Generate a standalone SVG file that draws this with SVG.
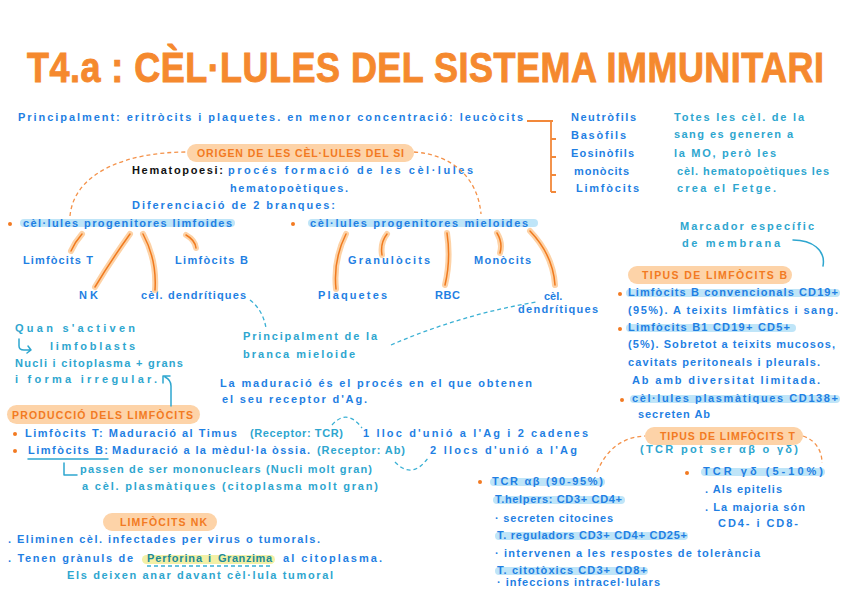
<svg xmlns="http://www.w3.org/2000/svg" width="848" height="599" viewBox="0 0 848 599">
<style>
text{font-family:"Liberation Sans",Arial,sans-serif;font-size:11px;font-weight:bold}
.b{fill:#1f7fe3}
.t{fill:#2ea6cf}
.o{fill:#f27a22;font-size:10.5px}
.k{fill:#111}
.pk{fill:#1d8a98}
.hb{fill:#bfe5f8}
.ho{fill:#fdd3a8}
.hy{fill:#f3f0a6}
.dot{fill:#f27a22}
.glow{fill:none;stroke:#fdd2a6;stroke-width:6;stroke-linecap:round}
.br{fill:none;stroke:#f07a1e;stroke-width:1.5;stroke-linecap:round}
.od{fill:none;stroke:#f4924a;stroke-width:1.3;stroke-dasharray:4 3}
.td{fill:none;stroke:#3ab0d4;stroke-width:1.3;stroke-dasharray:4 3}
.tl{fill:none;stroke:#2ea6cf;stroke-width:1.5;stroke-linecap:round;stroke-linejoin:round}
.ol{fill:none;stroke:#f2883a;stroke-width:1.8}
</style>
<rect width="848" height="599" fill="#fff"/>

<g id="title">
<text transform="translate(27,82) scale(1,1.18)" x="0" y="0" textLength="797" style="font-size:36px;fill:#f5892e;stroke:#f5892e;stroke-width:0.8">T4.a : CÈL·LULES  DEL SISTEMA IMMUNITARI</text>
</g>

<g id="intro">
<text class="b" x="18" y="121" textLength="505">Principalment: eritròcits i plaquetes. en menor concentració: leucòcits</text>
</g>

<g id="leucocits">
<path class="ol" d="M527,121 H553 M551,121 V192 M551,139 H556 M551,157 H556 M551,175 H556 M551,192 H556"/>
<text class="b" x="571" y="121" textLength="65">Neutròfils</text>
<text class="b" x="571" y="139" textLength="55">Basòfils</text>
<text class="b" x="571" y="157" textLength="63">Eosinòfils</text>
<text class="b" x="574" y="175" textLength="55">monòcits</text>
<text class="b" x="576" y="192" textLength="63">Limfòcits</text>
</g>

<g id="nota-fetge">
<text class="t" x="674" y="121" textLength="130">Totes les cèl. de la</text>
<text class="t" x="674" y="138" textLength="119">sang es generen a</text>
<text class="t" x="674" y="157" textLength="102">la MO, però les</text>
<text class="t" x="677" y="175" textLength="152">cèl. hematopoètiques les</text>
<text class="t" x="677" y="192" textLength="99">crea el Fetge.</text>
</g>

<g id="nota-marcador">
<text class="t" x="680" y="230" textLength="134">Marcador específic</text>
<text class="t" x="682" y="247" textLength="98">de membrana</text>
</g>

<g id="origen">
<rect class="ho" x="187" y="144" width="227" height="18" rx="9"/>
<text class="o" x="197" y="157" textLength="207">ORIGEN DE LES CÈL·LULES DEL SI</text>
<text class="k" x="132" y="174" textLength="91">Hematopoesi:</text>
<text class="b" x="228" y="174" textLength="245">procés formació de les cèl·lules</text>
<text class="b" x="230" y="192" textLength="118">hematopoètiques.</text>
<text class="b" x="132" y="209" textLength="203">Diferenciació de 2 branques:</text>
</g>

<g id="limfoides">
<rect class="hb" x="20" y="219" width="215" height="8" rx="4"/>
<circle class="dot" cx="10" cy="224" r="2"/>
<text class="b" x="23" y="227" textLength="209">cèl·lules progenitores limfoides</text>
</g>
<g id="mieloides">
<rect class="hb" x="308" y="219" width="230" height="8" rx="4"/>
<circle class="dot" cx="293" cy="224" r="2"/>
<text class="b" x="310" y="227" textLength="218">cèl·lules progenitores mieloides</text>
</g>

<g id="limfocits-t"><text class="b" x="23" y="264" textLength="70">Limfòcits T</text></g>
<g id="limfocits-b"><text class="b" x="175" y="264" textLength="73">Limfòcits B</text></g>
<g id="nk"><text class="b" x="79" y="299" textLength="19">NK</text></g>
<g id="dendritiques-l"><text class="b" x="141" y="299" textLength="105">cèl. dendrítiques</text></g>
<g id="granulocits"><text class="b" x="348" y="264" textLength="82">Granulòcits</text></g>
<g id="monocits"><text class="b" x="474" y="264" textLength="57">Monòcits</text></g>
<g id="plaquetes"><text class="b" x="318" y="299" textLength="69">Plaquetes</text></g>
<g id="rbc"><text class="b" x="435" y="299" textLength="25">RBC</text></g>
<g id="dendritiques-m">
<text class="b" x="544" y="300">cèl.</text>
<text class="b" x="518" y="313" textLength="80">dendrítiques</text>
</g>

<g id="nota-mieloide">
<text class="t" x="243" y="340" textLength="134">Principalment de la</text>
<text class="t" x="243" y="358" textLength="112">branca mieloide</text>
</g>

<g id="nota-activen">
<text class="t" x="15" y="332" textLength="120">Quan s'activen</text>
<path class="tl" d="M19,339 V346 Q19,350 24,350 H31 M28,346 L31,350 L27,353"/>
<text class="t" x="50" y="350" textLength="85">limfoblasts</text>
<text class="t" x="15" y="367" textLength="168">Nucli i citoplasma + grans</text>
<text class="t" x="15" y="383" textLength="142">i forma irregular.</text>
</g>

<g id="nota-maduracio">
<text class="b" x="220" y="387" textLength="312">La maduració és el procés en el que obtenen</text>
<text class="b" x="222" y="403" textLength="145">el seu receptor d'Ag.</text>
</g>

<g id="produccio">
<rect class="ho" x="7" y="405" width="193" height="19" rx="9.5"/>
<text class="o" x="12" y="419" textLength="181">PRODUCCIÓ DELS LIMFÒCITS</text>
<circle class="dot" cx="15" cy="434" r="2"/>
<text class="b" x="25" y="437" textLength="212">Limfòcits T: Maduració al Timus</text>
<text class="t" x="250" y="437" textLength="93">(Receptor: TCR)</text>
<text class="b" x="363" y="437" textLength="225">1 lloc d'unió a l'Ag i 2 cadenes</text>
<circle class="dot" cx="15" cy="451" r="2"/>
<text class="b" x="28" y="454" textLength="80">Limfòcits B:</text>
<path class="tl" d="M28,459 H108"/>
<text class="b" x="112" y="454" textLength="198">Maduració a la mèdul·la òssia.</text>
<text class="t" x="317" y="454" textLength="88">(Receptor: Ab)</text>
<text class="b" x="430" y="454" textLength="147">2 llocs d'unió a l'Ag</text>
<path class="tl" d="M64,463 V475 H77"/>
<text class="t" x="80" y="473" textLength="292">passen de ser mononuclears (Nucli molt gran)</text>
<text class="t" x="82" y="490" textLength="296">a cèl. plasmàtiques (citoplasma molt gran)</text>
</g>

<g id="limfocits-nk">
<rect class="ho" x="103" y="513" width="114" height="18" rx="9"/>
<text class="o" x="120" y="526" textLength="87">LIMFÒCITS NK</text>
<text class="b" x="8" y="543" textLength="312">. Eliminen cèl. infectades per virus o tumorals.</text>
<text class="b" x="8" y="562" textLength="125">. Tenen grànuls de</text>
<rect class="hy" x="142" y="555" width="133" height="9" rx="4.5"/>
<text class="pk" x="147" y="562" textLength="55">Perforina</text>
<text class="pk" x="208" y="562">i</text>
<text class="pk" x="218" y="562" textLength="54">Granzima</text>
<text class="b" x="283" y="562" textLength="99">al citoplasma.</text>
<path class="td" d="M147,566 H272"/>
<text class="t" x="67" y="579" textLength="266">Els deixen anar davant cèl·lula tumoral</text>
</g>

<g id="tipus-b">
<rect class="ho" x="628" y="266" width="164" height="18" rx="9"/>
<text class="o" x="642" y="279" textLength="145">TIPUS DE LIMFÒCITS B</text>
<rect class="hb" x="626" y="289" width="214" height="8" rx="4"/>
<circle class="dot" cx="620" cy="294" r="2"/>
<text class="b" x="628" y="296" textLength="210">Limfòcits B convencionals CD19+</text>
<text class="b" x="628" y="314" textLength="210">(95%). A teixits limfàtics i sang.</text>
<rect class="hb" x="626" y="324" width="170" height="8" rx="4"/>
<circle class="dot" cx="620" cy="329" r="2"/>
<text class="b" x="628" y="331" textLength="162">Limfòcits B1 CD19+ CD5+</text>
<text class="b" x="628" y="348" textLength="207">(5%). Sobretot a teixits mucosos,</text>
<text class="b" x="628" y="366" textLength="192">cavitats peritoneals i pleurals.</text>
<text class="b" x="632" y="384" textLength="188">Ab amb diversitat limitada.</text>
<rect class="hb" x="630" y="395" width="210" height="8" rx="4"/>
<circle class="dot" cx="622" cy="400" r="2"/>
<text class="b" x="632" y="402" textLength="206">cèl·lules plasmàtiques CD138+</text>
<text class="b" x="638" y="418" textLength="72">secreten Ab</text>
</g>

<g id="tipus-t">
<rect class="ho" x="645" y="427" width="158" height="18" rx="9"/>
<text class="o" x="660" y="440" textLength="135">TIPUS DE LIMFÒCITS T</text>
<text class="t" x="640" y="453" textLength="158">(TCR pot ser αβ o γδ)</text>
</g>

<g id="tcr-ab">
<rect class="hb" x="490" y="478" width="115" height="8" rx="4"/>
<circle class="dot" cx="480" cy="482" r="2"/>
<text class="b" x="492" y="485" textLength="111">TCR αβ (90-95%)</text>
<rect class="hb" x="493" y="496" width="132" height="8" rx="4"/>
<text class="b" x="495" y="503" textLength="127">T.helpers: CD3+ CD4+</text>
<text class="b" x="495" y="522" textLength="118">· secreten citocines</text>
<rect class="hb" x="495" y="532" width="193" height="8" rx="4"/>
<text class="b" x="497" y="539" textLength="190">T. reguladors CD3+ CD4+ CD25+</text>
<text class="b" x="495" y="557" textLength="265">· intervenen a les respostes de tolerància</text>
<rect class="hb" x="495" y="567" width="153" height="8" rx="4"/>
<text class="b" x="497" y="574" textLength="150">T. citotòxics CD3+ CD8+</text>
<text class="b" x="497" y="586" textLength="163">· infeccions intracel·lulars</text>
</g>

<g id="tcr-gd">
<rect class="hb" x="701" y="468" width="124" height="8" rx="4"/>
<circle class="dot" cx="687" cy="473" r="2"/>
<text class="b" x="703" y="475" textLength="120">TCR γδ (5-10%)</text>
<text class="b" x="705" y="493" textLength="77">. Als epitelis</text>
<text class="b" x="705" y="511" textLength="100">. La majoria són</text>
<text class="b" x="718" y="527" textLength="80">CD4- i CD8-</text>
</g>

<g id="connectors">
<path class="od" d="M70,216 C74,172 128,152 187,152"/>
<path class="od" d="M414,152 C455,155 478,180 481,214"/>
<path class="od" d="M597,472 C606,450 622,437 645,436"/>
<path class="od" d="M803,436 C815,440 822,450 822,463"/>
<g>
<path class="glow" d="M82,234 Q75,242 71,251 M130,234 Q110,262 95,287 M143,234 Q157,260 155,290 M186,235 Q195,240 196,248 M346,234 Q333,260 336,289 M387,234 Q380,243 382,255 M447,233 Q451,260 445,285 M497,233 Q503,243 500,253 M530,231 Q553,255 555,285"/>
<path class="br" d="M82,234 Q75,242 71,251 M130,234 Q110,262 95,287 M143,234 Q157,260 155,290 M186,235 Q195,240 196,248 M346,234 Q333,260 336,289 M387,234 Q380,243 382,255 M447,233 Q451,260 445,285 M497,233 Q503,243 500,253 M530,231 Q553,255 555,285"/>
</g>
<path class="td" d="M250,300 Q263,310 266,328"/>
<path class="td" d="M391,345 Q460,315 536,302"/>
<path class="td" d="M332,425 Q347,408 362,428"/>
<path class="td" d="M395,462 Q412,480 428,458"/>
<path class="tl" d="M793,240 C812,240 826,250 823,266"/>
<path class="tl" d="M171,406 V386 Q171,380 165,377 M163,383 L163,376 L170,376"/>
</g>
</svg>
